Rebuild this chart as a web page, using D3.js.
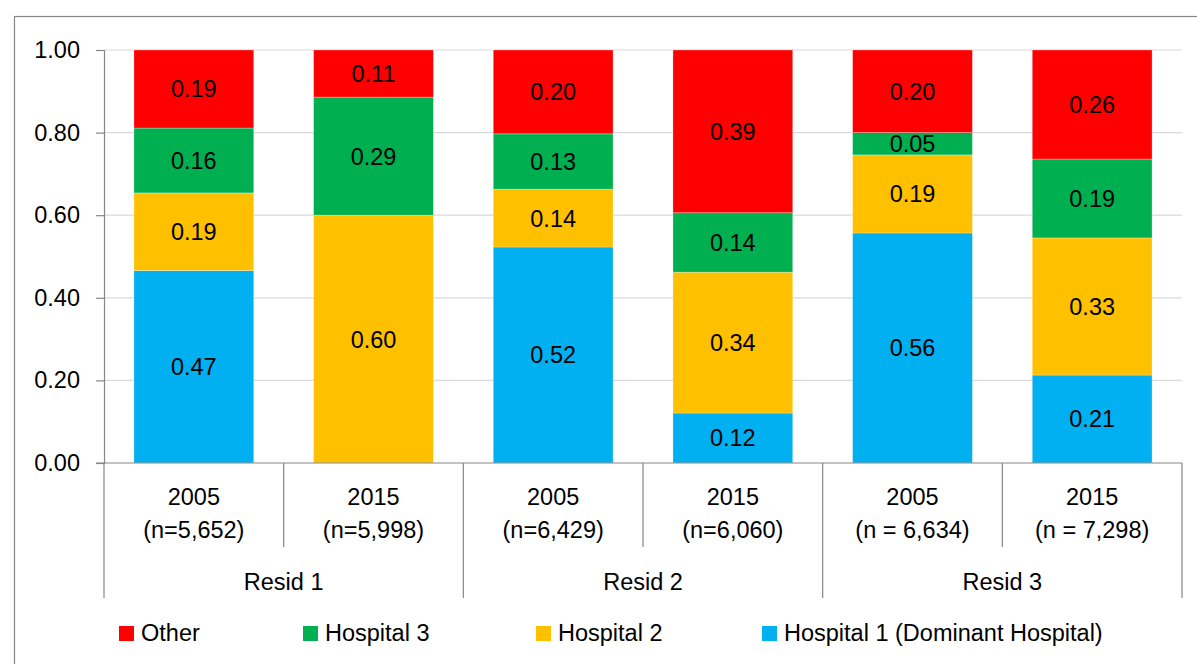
<!DOCTYPE html>
<html>
<head>
<meta charset="utf-8">
<script src="https://cdn.jsdelivr.net/npm/d3@7"></script>
<style>
  body { margin: 0; background: #fff; }
  svg text { font-family: "Liberation Sans", Arial, sans-serif; fill: #000; }
</style>
</head>
<body>
<div id="chart"></div>
<script>
// Chart data
const groups = ["Resid 1", "Resid 2", "Resid 3"];
const years = ["2005", "2015"];
const nLabels = ["(n=5,652)", "(n=5,998)", "(n=6,429)", "(n=6,060)", "(n = 6,634)", "(n = 7,298)"];
const seriesNames = ["Hospital 1 (Dominant Hospital)", "Hospital 2", "Hospital 3", "Other"];
const hospital1 = [0.466, 0.000, 0.523, 0.121, 0.557, 0.213];
const hospital2 = [0.188, 0.600, 0.140, 0.341, 0.189, 0.332];
const hospital3 = [0.157, 0.286, 0.134, 0.144, 0.054, 0.191];
const other = [0.189, 0.114, 0.203, 0.394, 0.200, 0.264];
const yTicks = [0, 0.2, 0.4, 0.6, 0.8, 1.0];
const legendOrder = ["Other", "Hospital 3", "Hospital 2", "Hospital 1 (Dominant Hospital)"];

const colors = {
    "Hospital 1 (Dominant Hospital)": "#00B0F0",
    "Hospital 2": "#FFC000",
    "Hospital 3": "#00B050",
    "Other": "#FF0000"
};

const W = 1197, H = 664;
const plot = { left: 104, right: 1182, top: 50, bottom: 463 };
const fontSize = "23.5px";

const svg = d3.select("#chart").append("svg")
    .attr("width", W)
    .attr("height", H);

// outer chart border
svg.append("rect")
    .attr("x", 14.5).attr("y", 16.5)
    .attr("width", W).attr("height", H)
    .attr("fill", "none")
    .attr("stroke", "#868686")
    .attr("stroke-width", 1.2);

// category keys
const cats = [];
groups.forEach(g => years.forEach(yr => cats.push(g + "|" + yr)));

const rows = cats.map((c, i) => ({
    key: c,
    "Hospital 1 (Dominant Hospital)": hospital1[i],
    "Hospital 2": hospital2[i],
    "Hospital 3": hospital3[i],
    "Other": other[i]
}));

const x = d3.scaleBand()
    .domain(cats)
    .range([plot.left, plot.right])
    .paddingInner(1 / 3)
    .paddingOuter(1 / 6);

const y = d3.scaleLinear()
    .domain([0, 1])
    .range([plot.bottom, plot.top]);

// gridlines
svg.append("g")
    .selectAll("line")
    .data(yTicks.filter(d => d > 0))
    .enter().append("line")
    .attr("x1", plot.left).attr("x2", plot.right)
    .attr("y1", d => y(d)).attr("y2", d => y(d))
    .attr("stroke", "#D9D9D9")
    .attr("stroke-width", 1.2);

// stacked bars
const stack = d3.stack().keys(seriesNames);
const layers = stack(rows);

const layerG = svg.append("g").selectAll("g")
    .data(layers)
    .enter().append("g")
    .attr("fill", d => colors[d.key]);

layerG.selectAll("rect")
    .data(d => d.filter(p => p[1] - p[0] > 0))
    .enter().append("rect")
    .attr("x", d => x(d.data.key))
    .attr("width", x.bandwidth())
    .attr("y", d => y(d[1]))
    .attr("height", d => y(d[0]) - y(d[1]))
    .attr("stroke", "#fff")
    .attr("stroke-opacity", 0.35)
    .attr("stroke-width", 0.8);

layerG.selectAll("text")
    .data(d => d.filter(p => p[1] - p[0] > 0))
    .enter().append("text")
    .attr("x", d => x(d.data.key) + x.bandwidth() / 2)
    .attr("y", d => (y(d[0]) + y(d[1])) / 2)
    .attr("dy", "0.36em")
    .attr("text-anchor", "middle")
    .attr("font-size", fontSize)
    .text(d => (d[1] - d[0]).toFixed(2));

// y axis
const yAxis = svg.append("g")
    .attr("transform", `translate(${plot.left},0)`)
    .call(d3.axisLeft(y).tickValues(yTicks).tickFormat(d3.format(".2f")).tickSize(8).tickPadding(16));
yAxis.select(".domain").attr("stroke", "#868686").attr("stroke-width", 1.2);
yAxis.selectAll(".tick line").attr("stroke", "#868686").attr("stroke-width", 1.2);
yAxis.selectAll("text").attr("font-size", fontSize).attr("font-family", "Liberation Sans, Arial, sans-serif").attr("fill", "#000");

// x axis baseline
svg.append("line")
    .attr("x1", plot.left - 8).attr("x2", plot.right)
    .attr("y1", plot.bottom).attr("y2", plot.bottom)
    .attr("stroke", "#868686").attr("stroke-width", 1.2);

// multi-level category labels
const step = x.step();
const catLeft = c => x(c) - x.paddingInner() * step / 2;

cats.forEach((c, i) => {
    const cx = x(c) + x.bandwidth() / 2;
    const yr = c.split("|")[1];
    svg.append("text")
        .attr("x", cx).attr("y", 505)
        .attr("text-anchor", "middle")
        .attr("font-size", fontSize)
        .text(yr);
    svg.append("text")
        .attr("x", cx).attr("y", 538)
        .attr("text-anchor", "middle")
        .attr("font-size", fontSize)
        .text(nLabels[i]);
});

// dividers: inner (between years) short, group edges long
cats.forEach((c, i) => {
    const isGroupStart = i % years.length === 0;
    svg.append("line")
        .attr("x1", catLeft(c)).attr("x2", catLeft(c))
        .attr("y1", plot.bottom).attr("y2", isGroupStart ? 598 : 547)
        .attr("stroke", "#868686").attr("stroke-width", 1.2);
});
svg.append("line")
    .attr("x1", plot.right).attr("x2", plot.right)
    .attr("y1", plot.bottom).attr("y2", 598)
    .attr("stroke", "#868686").attr("stroke-width", 1.2);

groups.forEach((g, gi) => {
    const first = cats[gi * years.length];
    const last = cats[gi * years.length + years.length - 1];
    const gx = (catLeft(first) + catLeft(last) + step) / 2;
    svg.append("text")
        .attr("x", gx).attr("y", 590)
        .attr("text-anchor", "middle")
        .attr("font-size", fontSize)
        .text(g);
});

// legend
const legendX = [119, 303, 536, 762];
const legend = svg.append("g");
legendOrder.forEach((name, i) => {
    legend.append("rect")
        .attr("x", legendX[i]).attr("y", 626)
        .attr("width", 15).attr("height", 15)
        .attr("fill", colors[name]);
    legend.append("text")
        .attr("x", legendX[i] + 22).attr("y", 641)
        .attr("font-size", fontSize)
        .text(name);
});
</script>
</body>
</html>
